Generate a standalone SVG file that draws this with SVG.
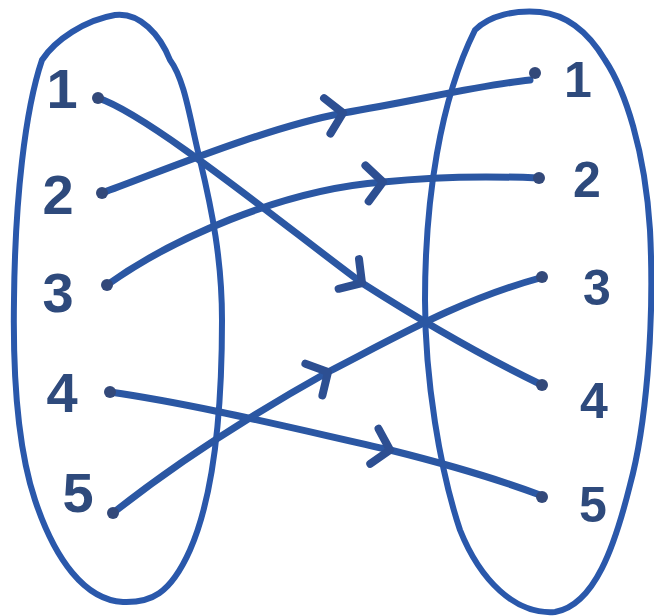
<svg xmlns="http://www.w3.org/2000/svg" width="654" height="616" viewBox="0 0 654 616">
<style>
.set{fill:none;stroke:#2a58ab;stroke-width:6;stroke-linecap:round;stroke-linejoin:round}
.lbl{font-family:"Liberation Sans",Arial,sans-serif;font-weight:bold;fill:#2e4a7c;text-anchor:middle}
.L{font-size:56px}
.R{font-size:50px}
.dot{fill:#33497a}
.edge{fill:none;stroke:#2b57a3;stroke-width:7;stroke-linecap:round;stroke-linejoin:round;marker-mid:url(#chev)}
</style>
<defs>
<marker id="chev" markerUnits="userSpaceOnUse" markerWidth="60" markerHeight="60" refX="0" refY="0" orient="auto" overflow="visible">
<path d="M-16,-18 L0,0 L-16,18" fill="none" stroke="#2d4f92" stroke-width="8" stroke-linecap="round" stroke-linejoin="round"/>
</marker>
</defs>
<rect width="654" height="616" fill="#ffffff"/>
<g id="set-left">
<path class="set" d="M42,60 C55,40 85,20 115,15 C140,12 160,35 170,60 C185,80 190,120 200,160 C212,210 222,260 222,320 C222,420 212,500 190,550 C170,595 150,603 123,602 C85,600 55,560 35,500 C15,440 13,360 14,300 C15,200 25,110 42,60 Z"/>
</g>
<g id="set-right">
<path class="set" d="M475,30 C490,15 515,10 540,12 C570,15 590,35 605,60 C625,90 645,150 650,230 C655,330 645,430 630,485 C615,545 595,605 555,612 C515,615 480,580 460,530 C440,470 425,380 425,300 C425,200 440,100 475,30 Z"/>
</g>
<g id="connectors">
<path class="edge" d="M98,98 C150,115 290,230 362,283 C420,320 490,360 542,385"/>
<path class="edge" d="M102,193 C165,170 265,128 343,113 C420,100 480,85 530,80"/>
<path class="edge" d="M107,285 C170,240 280,190 383,182 C440,176 490,176 538,178"/>
<path class="edge" d="M110,392 C200,405 300,430 390,450 C450,465 500,480 540,495"/>
<path class="edge" d="M113,513 C180,460 260,410 328,372 C400,335 460,300 540,278"/>
</g>
<g id="a1"><text class="lbl L" x="62" y="108">1</text><circle class="dot" cx="98" cy="98" r="6"/></g>
<g id="a2"><text class="lbl L" x="58" y="214">2</text><circle class="dot" cx="102" cy="193" r="6"/></g>
<g id="a3"><text class="lbl L" x="58" y="312">3</text><circle class="dot" cx="107" cy="285" r="6"/></g>
<g id="a4"><text class="lbl L" x="62" y="412">4</text><circle class="dot" cx="110" cy="392" r="6"/></g>
<g id="a5"><text class="lbl L" x="78" y="512">5</text><circle class="dot" cx="113" cy="513" r="6"/></g>
<g id="b1"><text class="lbl R" x="578" y="97">1</text><circle class="dot" cx="535" cy="73" r="6"/></g>
<g id="b2"><text class="lbl R" x="587" y="197">2</text><circle class="dot" cx="539" cy="178" r="6"/></g>
<g id="b3"><text class="lbl R" x="597" y="305">3</text><circle class="dot" cx="542" cy="277" r="6"/></g>
<g id="b4"><text class="lbl R" x="594" y="418">4</text><circle class="dot" cx="542" cy="385" r="6"/></g>
<g id="b5"><text class="lbl R" x="593" y="522">5</text><circle class="dot" cx="542" cy="497" r="6"/></g>
</svg>
